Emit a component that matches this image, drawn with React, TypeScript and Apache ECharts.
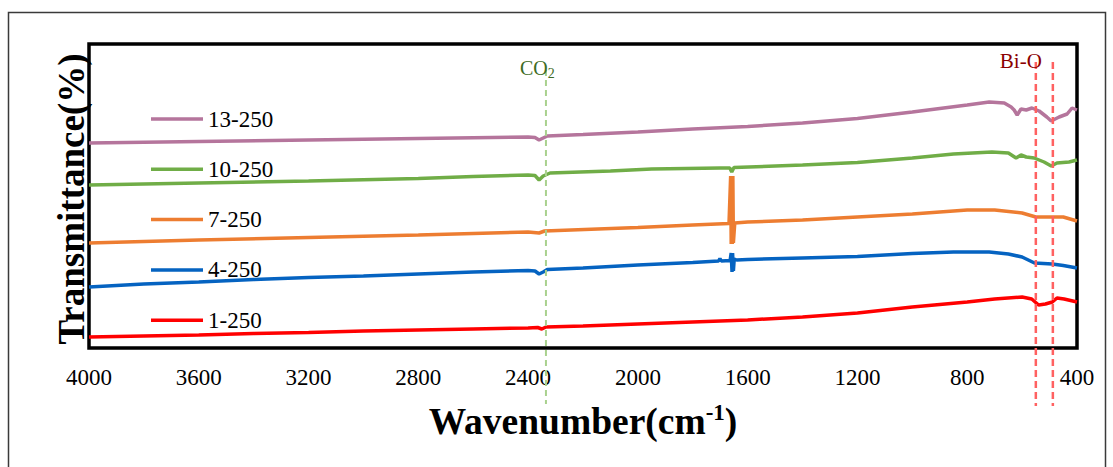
import React, { useEffect, useRef } from 'react';
import * as echarts from 'echarts';

// ---- Data (wavenumber cm^-1, transmittance offset a.u.) ----
const X_MIN = 400;
const X_MAX = 4000;
const X_STEP = 400;

const seriesNames = ['13-250', '10-250', '7-250', '4-250', '1-250'];
const seriesColors = ['#b5759c', '#70ad47', '#ed7d31', '#0563c1', '#ff0000'];

const s13_250 = [
  [4000, 204], [3600, 205.5], [3200, 207], [2800, 208.5], [2400, 210], [2375, 209.5], [2360, 207],
  [2345, 209], [2330, 211], [2200, 212.5], [2000, 215], [1800, 218], [1600, 220.5], [1400, 224],
  [1200, 228.5], [1000, 235], [800, 242], [720, 245], [665, 244], [640, 240], [629, 237], [618, 232],
  [604, 238], [585, 237], [564, 239], [538, 236], [510, 230], [494, 226], [465, 230], [436, 233],
  [418, 239], [400, 237],
];
const s10_250 = [
  [4000, 162], [3600, 164], [3200, 166], [2800, 168.5], [2600, 170.5], [2400, 172], [2375, 171.5],
  [2360, 167], [2345, 171], [2320, 174], [2100, 176], [1950, 178], [1700, 179], [1665, 179],
  [1658, 175], [1650, 179.5], [1400, 182], [1200, 184.5], [1000, 189], [850, 193], [710, 195],
  [650, 194], [622, 189], [604, 192], [585, 190], [556, 189], [520, 185], [494, 181], [473, 184],
  [429, 185], [400, 187],
];
const s7_250 = [
  [4000, 104], [3600, 107], [3200, 109.5], [2800, 112], [2400, 115], [2360, 114], [2340, 116],
  [2000, 119.5], [1800, 122], [1668, 123.5], [1662, 171], [1660, 103], [1658, 171], [1656, 103],
  [1654, 171], [1652, 104], [1647, 124], [1600, 125],
  [1400, 127], [1200, 130], [1000, 133], [800, 137], [700, 137], [600, 134], [550, 130], [500, 130],
  [450, 130], [400, 126],
];
const s4_250 = [
  [4000, 60], [3800, 63], [3600, 65], [3400, 67.5], [3200, 69.5], [3000, 71], [2800, 73], [2600, 75],
  [2400, 76.5], [2375, 76], [2360, 73], [2345, 75], [2330, 77.5], [2200, 79], [2000, 82], [1800, 84.5],
  [1706, 86], [1701, 88.5], [1696, 86], [1664, 86.5], [1660, 94], [1657, 75], [1655, 94], [1652, 76],
  [1649, 88], [1640, 87], [1600, 87.5], [1400, 89], [1200, 90.5], [1000, 93.5], [850, 95], [720, 95],
  [650, 93], [600, 90], [555, 84], [490, 83], [450, 81.5], [400, 79],
];
const s1_250 = [
  [4000, 10], [3800, 11], [3600, 12], [3400, 13.5], [3200, 14.5], [3000, 16], [2800, 17], [2600, 18],
  [2400, 19], [2365, 19.5], [2350, 18], [2335, 20], [2200, 21], [2000, 23], [1800, 25], [1600, 27],
  [1400, 30], [1200, 34], [1000, 40], [800, 45], [700, 48], [600, 50], [565, 48], [540, 42],
  [515, 43], [490, 45], [473, 49], [447, 48], [400, 45],
];
const seriesData = [s13_250, s10_250, s7_250, s4_250, s1_250];

const co2Wavenumber = 2335;
const biOWavenumbers = [550, 488];

const SERIF = '"Liberation Serif", "Times New Roman", serif';

export default function App() {
  const ref = useRef<HTMLDivElement>(null);

  useEffect(() => {
    if (!ref.current) return;
    const chart = echarts.init(ref.current, null, { renderer: 'svg' });

    const option: any = {
      animation: false,
      backgroundColor: '#ffffff',
      grid: {
        left: 89,
        right: 36,
        top: 44,
        bottom: 119,
        show: true,
        borderColor: '#000000',
        borderWidth: 3.5,
        backgroundColor: 'transparent',
      },
      legend: {
        orient: 'vertical',
        left: 146,
        top: 102,
        itemWidth: 52,
        itemHeight: 24,
        itemGap: 26.3,
        itemGap2: 0,
        icon: 'path://M0,0L52,0L52,3.5L0,3.5Z',
        data: seriesNames,
        textStyle: { fontFamily: SERIF, fontSize: 23, color: '#000', lineHeight: 24 },
      },
      xAxis: {
        type: 'value',
        inverse: true,
        min: X_MIN,
        max: X_MAX,
        interval: X_STEP,
        axisLine: { show: false },
        axisTick: { show: false },
        splitLine: { show: false },
        axisLabel: {
          fontFamily: SERIF,
          fontSize: 23,
          color: '#000',
          margin: 18,
          formatter: (v: number) => String(v),
        },
      },
      yAxis: {
        type: 'value',
        min: -1,
        max: 303,
        axisLine: { show: false },
        axisTick: { show: false },
        splitLine: { show: false },
        axisLabel: { show: false },
      },
      series: seriesNames.map((name, i) => ({
        name,
        type: 'line',
        data: seriesData[i],
        symbol: 'none',
        showSymbol: false,
        color: seriesColors[i],
        lineStyle: { width: 3.5, color: seriesColors[i] },
      })),
    };
    chart.setOption(option);

    const yTop = 62;
    const co2X = chart.convertToPixel({ xAxisIndex: 0 }, co2Wavenumber) as number;
    const biX = biOWavenumbers.map((w) => chart.convertToPixel({ xAxisIndex: 0 }, w) as number);

    const graphics: any[] = [
      {
        type: 'rect',
        shape: { x: 8.5, y: 12.5, width: 1097, height: 470 },
        style: { fill: 'none', stroke: '#3a3a3a', lineWidth: 1.5 },
        silent: true,
      },
      {
        type: 'line',
        shape: { x1: co2X, y1: 70, x2: co2X, y2: 404 },
        style: { stroke: '#a9d18e', lineWidth: 2, lineDash: [6, 4] },
        z: 100,
      },
      ...biX.map((x) => ({
        type: 'line',
        shape: { x1: x, y1: yTop, x2: x, y2: 406 },
        style: { stroke: '#ff6161', lineWidth: 2.5, lineDash: [7, 4] },
        z: 100,
      })),
      {
        type: 'text',
        x: co2X - 26,
        y: 68,
        z: 101,
        style: {
          text: '{a|CO}{b|2}',
          textVerticalAlign: 'middle',
          rich: {
            a: { fontFamily: SERIF, fontSize: 20, fill: '#3d6b24', lineHeight: 24 },
            b: { fontFamily: SERIF, fontSize: 14, fill: '#3d6b24', verticalAlign: 'bottom', lineHeight: 14 },
          },
        },
      },
      {
        type: 'text',
        x: biX[0] - 36,
        y: 61,
        z: 101,
        style: {
          text: 'Bi-O',
          fontFamily: SERIF,
          fontSize: 21,
          fill: '#8b0000',
          textVerticalAlign: 'middle',
        },
      },
      {
        type: 'text',
        x: 71,
        y: 199,
        rotation: Math.PI / 2,
        style: {
          text: 'Transmittance(%)',
          fontFamily: SERIF,
          fontWeight: 'bold',
          fontSize: 37,
          fill: '#000',
          textAlign: 'center',
          textVerticalAlign: 'middle',
        },
      },
      {
        type: 'text',
        x: 583,
        y: 421,
        style: {
          text: '{a|Wavenumber(cm}{s|-1}{a|)}',
          textAlign: 'center',
          textVerticalAlign: 'middle',
          rich: {
            a: { fontFamily: SERIF, fontWeight: 'bold', fontSize: 37.5, fill: '#000', lineHeight: 40 },
            s: { fontFamily: SERIF, fontWeight: 'bold', fontSize: 23, fill: '#000', verticalAlign: 'top', lineHeight: 22 },
          },
        },
      },
    ];
    chart.setOption({ graphic: graphics });

    return () => chart.dispose();
  }, []);

  return (
    <div
      ref={ref}
      style={{ position: 'absolute', left: 0, top: 0, width: 1113, height: 467, background: '#fff' }}
    />
  );
}
